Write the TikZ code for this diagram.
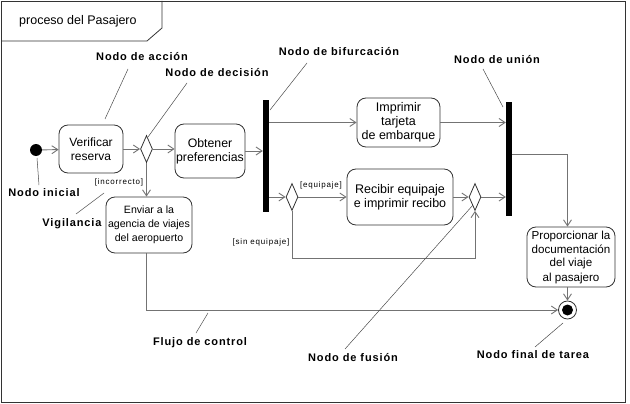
\documentclass[tikz,border=0pt]{standalone}
\usepackage{fontspec}
\setmainfont{Liberation Sans}
\usetikzlibrary{arrows.meta,shapes.geometric}
\newcommand{\bx}[1]{\fontsize{#1}{14}\selectfont}
\begin{document}
\begin{tikzpicture}[x=1pt,y=-1pt,
  act/.style={draw=black!80,line width=0.8pt,rounded corners=9pt,align=center,inner sep=1pt},
  dia/.style={draw=black!80,line width=0.8pt,diamond,inner sep=0pt,minimum width=12pt,minimum height=27pt},
  bar/.style={fill=black,draw=none,inner sep=0pt,minimum width=6pt},
  flow/.style={draw=black!55,line width=0.9pt,-{Straight Barb[length=6pt,width=8pt]}},
  lead/.style={draw=black!70,line width=0.5pt},
  lab/.style={font=\bfseries\fontsize{11}{13}\selectfont\addfontfeature{LetterSpace=8},inner sep=0pt},
  grd/.style={font=\fontsize{8}{9}\selectfont\addfontfeature{LetterSpace=10},inner sep=0pt}]
\useasboundingbox (0,0) rectangle (630,404);
% frame
\draw[black!80,line width=0.8pt] (1,1) rectangle (625,402);
\draw[black!80,line width=0.8pt] (1,41) -- (147,41) -- (162,28) -- (162,1);
\node[font=\fontsize{12.5}{14}\selectfont,anchor=west,inner sep=0pt] (title) at (19,21) {proceso del Pasajero};
% nodes
\node[circle,fill=black,inner sep=0pt,minimum size=12pt] (ini) at (36,150) {};
\node[act,font=\bx{12},minimum width=64pt,minimum height=48pt] (ver) at (91,149) {Verificar\\reserva};
\node[dia] (dec1) at (146.5,149) {};
\node[act,font=\bx{12.3},minimum width=70pt,minimum height=54pt,inner sep=0pt] (obt) at (210,151) {Obtener\\preferencias};
\node[act,font=\bx{10.6},minimum width=86pt,minimum height=56pt] (env) at (149,225) {Enviar a la\\agencia de viajes\\del aeropuerto};
\node[bar,minimum height=112pt] (fork) at (266,156) {};
\node[act,font=\bx{12.5},minimum width=83pt,minimum height=49pt,inner sep=0pt] (imp) at (398.5,122.5) {Imprimir\\tarjeta\\de embarque};
\node[bar,minimum height=114pt] (join) at (509,159) {};
\node[dia] (dec2) at (292,197) {};
\node[act,font=\bx{12.5},minimum width=106pt,minimum height=56pt] (rec) at (400,197) {Recibir equipaje\\e imprimir recibo};
\node[dia] (mer) at (475,197) {};
\node[act,font=\bx{11.6},minimum width=88pt,minimum height=60pt,inner sep=0pt] (pro) at (571,257) {Proporcionar la\\documentación\\del viaje\\al pasajero};
\node[circle,draw=black!80,line width=0.8pt,inner sep=0pt,minimum size=18pt] (fin) at (567.5,310) {};
\node[circle,fill=black,inner sep=0pt,minimum size=11pt] (finin) at (567.5,310) {};
% flows
\draw[flow] (ini) -- (ver);
\draw[flow] (ver) -- (dec1);
\draw[flow] (dec1) -- (obt.west |- dec1);
\draw[flow] (dec1.south) -- (dec1.south |- env.north);
\draw[flow] (obt.east) -- (obt.east -| fork.west);
\coordinate (f1) at (fork.east |- imp.west);
\draw[flow] (f1) -- (imp.west);
\draw[flow] (imp.east) -- (imp.east -| join.west);
\coordinate (f2) at (fork.east |- dec2);
\draw[flow] (f2) -- (dec2.west);
\draw[flow] (dec2.east) -- (rec.west |- dec2);
\draw[flow] (rec.east) -- (mer.west);
\draw[flow] (mer.east) -- (mer.east -| join.west);
\coordinate (lp) at (292,258);
\draw[flow] (dec2.south) -- (lp) -| (mer.south);
\coordinate (j1) at (join.east |- 0,154);
\draw[flow] (j1) -| (pro.north -| fin);
\draw[flow] (pro.south -| fin) -- (fin.north);
\coordinate (e1) at (env.south -| dec1);
\coordinate (e2) at (e1 |- fin);
\draw[flow] (e1) -- (e2) -- (fin.west);
% guards
\node[grd] (g1) at (119,182) {[incorrecto]};
\node[grd] (g2) at (321,185) {[equipaje]};
\node[grd] (g3) at (261,242) {[sin equipaje]};
% labels
\node[lab] (l1) at (142,57) {Nodo de acción};
\node[lab] (l2) at (217,73) {Nodo de decisión};
\node[lab] (l3) at (339,52) {Nodo de bifurcación};
\node[lab] (l4) at (497,60) {Nodo de unión};
\node[lab] (l5) at (44,193) {Nodo inicial};
\node[lab] (l6) at (72,224) {Vigilancia};
\node[lab] (l7) at (200,343) {Flujo de control};
\node[lab] (l8) at (353,358) {Nodo de fusión};
\node[lab] (l9) at (533,355) {Nodo final de tarea};
% leaders
\coordinate (a1) at (128,69); \coordinate (b1) at (105,119);
\draw[lead] (a1) -- (b1);
\coordinate (a2) at (187,83); \coordinate (b2) at (148,137);
\draw[lead] (a2) -- (b2);
\coordinate (a3) at (307,63); \coordinate (b3) at (270,110);
\draw[lead] (a3) -- (b3);
\coordinate (a4) at (483,69); \coordinate (b4) at (503,107);
\draw[lead] (a4) -- (b4);
\coordinate (a5) at (39,185); \coordinate (b5) at (37,158);
\draw[lead] (a5) -- (b5);
\coordinate (a6) at (76,214); \coordinate (b6) at (104,193);
\draw[lead] (a6) -- (b6);
\coordinate (a7) at (196,333); \coordinate (b7) at (208,313);
\draw[lead] (a7) -- (b7);
\coordinate (a8) at (345,349); \coordinate (b8) at (473,205);
\draw[lead] (a8) -- (b8);
\coordinate (a9) at (535,347); \coordinate (b9) at (563,323);
\draw[lead] (a9) -- (b9);
\end{tikzpicture}
\end{document}
